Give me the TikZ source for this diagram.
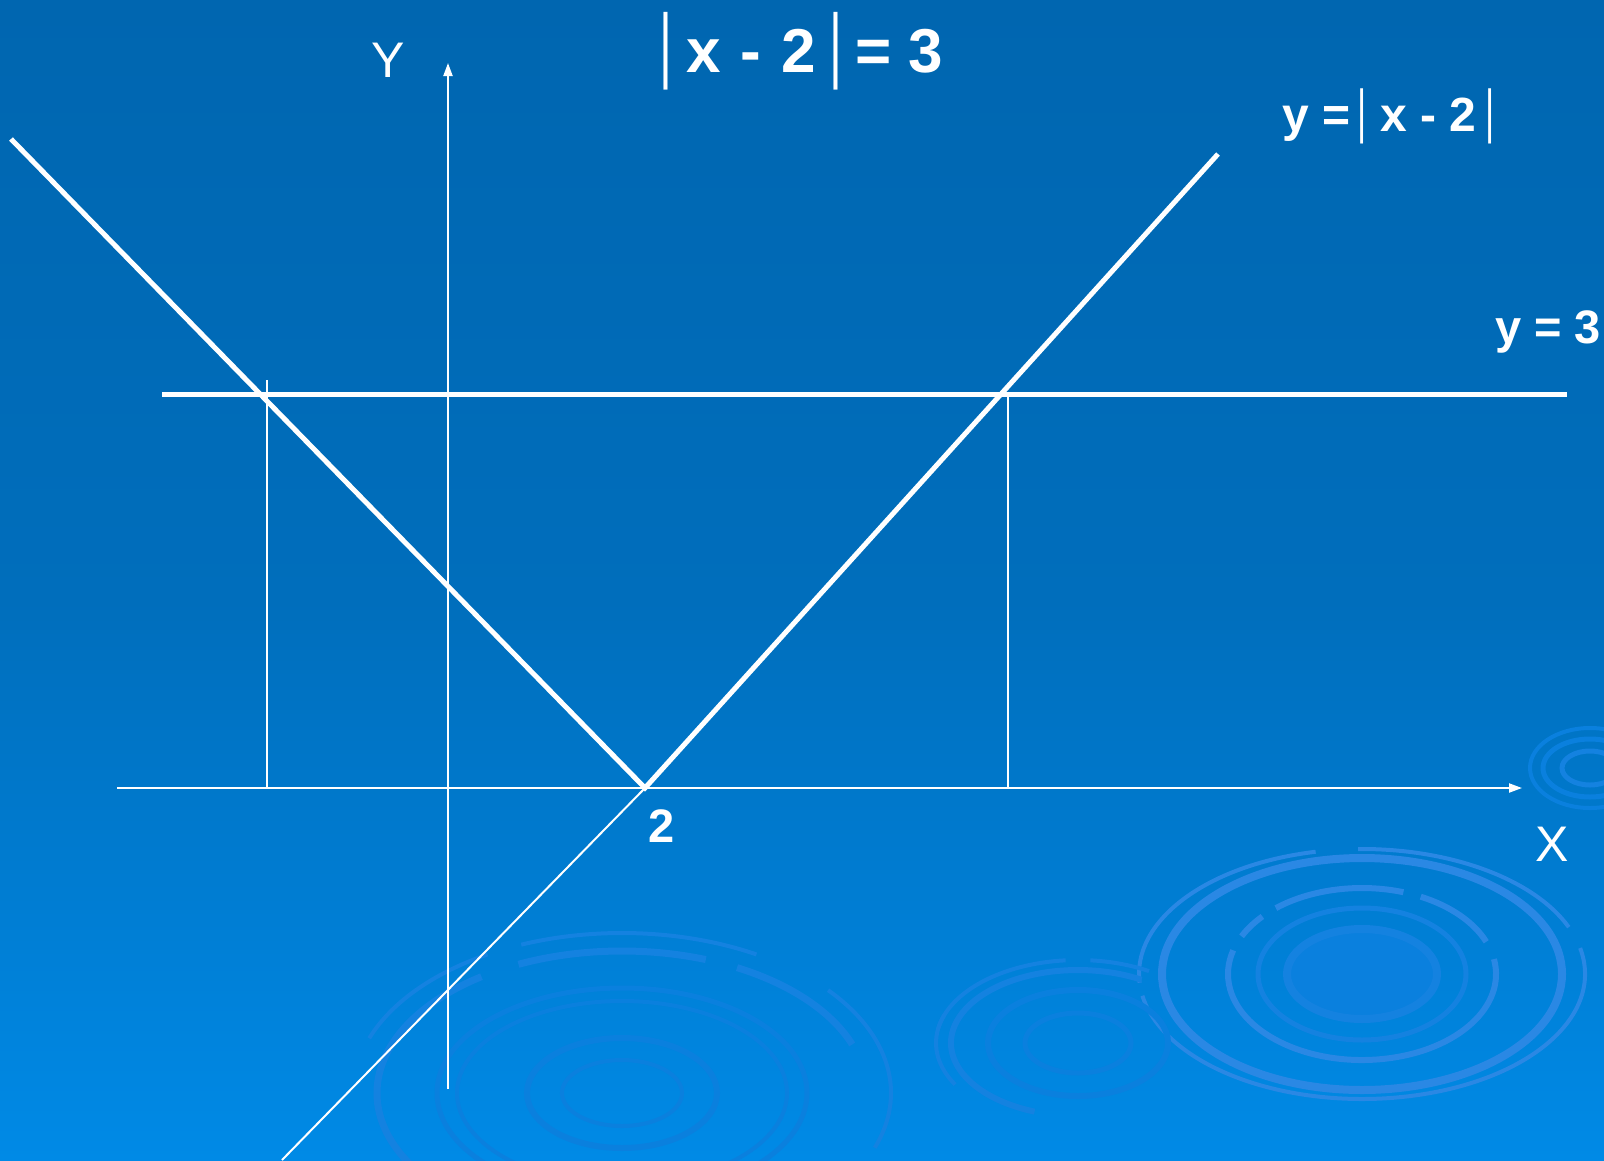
\documentclass[tikz,border=0pt]{standalone}
\usepackage{graphicx}
\usepackage{fontspec}
\setmainfont{Liberation Sans}
\usetikzlibrary{arrows.meta}
\definecolor{bgtop}{RGB}{0,102,176}
\definecolor{bgmid}{RGB}{0,110,188}
\definecolor{bgbot}{RGB}{0,138,230}
\definecolor{ripA}{RGB}{42,136,228}
\definecolor{ripB}{RGB}{20,130,224}
\definecolor{ripC}{RGB}{10,128,222}
\newcommand\absbar[1]{{\fontsize{#1}{#1}\selectfont\mdseries\scalebox{0.6}[1]{|}}}
\begin{document}
\begin{tikzpicture}[x=1pt,y=-1pt,
  thickln/.style={white,line width=5pt},
  thinln/.style={white,line width=2pt},
  axisln/.style={white,line width=2pt,-{Triangle[length=13pt,width=9pt]}},
  lbl/.style={text=white,inner sep=0pt},
  axlbl/.style={lbl,font=\fontsize{50}{50}\selectfont},
]
\useasboundingbox (0,0) rectangle (1604,1160);
% background
\fill[top color=bgtop,bottom color=bgmid] (0,0) rectangle (1604,601);
\fill[top color=bgmid,bottom color=bgbot] (0,600) rectangle (1604,1160);

% ripples (decorative)
\coordinate (R) at (1362,974);
\coordinate (L) at (622,1093);
\coordinate (M) at (1078,1043);
\coordinate (S) at (1590,768);
% right ripple
\foreach \a/\b in {-91/-22,-12/170,176/258}
  \draw[ripA,line width=4pt] (R) ++(\a:223 and 125) arc[start angle=\a,end angle=\b,x radius=223,y radius=125];
\draw[ripA,line width=8pt] (R) ellipse[x radius=200,y radius=116];
\foreach \a/\b in {-130/-72,-64/-22,-10/196,206/222}
  \draw[ripA,line width=6pt] (R) ++(\a:134 and 86) arc[start angle=\a,end angle=\b,x radius=134,y radius=86];
\draw[ripB,line width=5pt] (R) ellipse[x radius=104,y radius=66];
\fill[ripC] (R) ellipse[x radius=72,y radius=42];
\draw[ripB,line width=8pt] (R) ellipse[x radius=75,y radius=45];
% left ripple
\foreach \a/\b in {-160/-120,-112/-60,-40/20}
  \draw[ripB,line width=4pt] (L) ++(\a:269 and 160) arc[start angle=\a,end angle=\b,x radius=269,y radius=160];
\foreach \a/\b in {150/235,245/290,298/340}
  \draw[ripB,line width=7pt] (L) ++(\a:245 and 142) arc[start angle=\a,end angle=\b,x radius=245,y radius=142];
\draw[ripC,line width=5pt] (L) ellipse[x radius=185,y radius=105];
\draw[ripC,line width=4pt] (L) ellipse[x radius=165,y radius=92];
\draw[ripC,line width=6pt] (L) ellipse[x radius=95,y radius=55];
\draw[ripC,line width=4pt] (L) ellipse[x radius=60,y radius=33];
% middle ripple
\foreach \a/\b in {-170/-95,-85/-60,150/200}
  \draw[ripB,line width=4pt] (M) ++(\a:142 and 83) arc[start angle=\a,end angle=\b,x radius=142,y radius=83];
\draw[ripB,line width=6pt] (M) ++(110:127 and 73) arc[start angle=110,end angle=300,x radius=127,y radius=73];
\draw[ripC,line width=6pt] (M) ellipse[x radius=90,y radius=53];
\draw[ripC,line width=5pt] (M) ellipse[x radius=53,y radius=30];
% small right ripple
\draw[ripC,line width=4pt] (S) ellipse[x radius=60,y radius=40];
\draw[ripC,line width=5pt] (S) ellipse[x radius=47,y radius=29];
\draw[ripB,line width=5pt] (S) ellipse[x radius=28,y radius=17];

% key points
\coordinate (V) at (645,788);
\coordinate (Lend) at (11,139);
\coordinate (Rend) at (1218,154);
\coordinate (H1) at (162,394);
\coordinate (H2) at (1567,394);
\coordinate (X0) at (117,788);
\coordinate (X1) at (1522,788);
\coordinate (Y0) at (448,1089);
\coordinate (Y1) at (448,63);
\coordinate (D1t) at (267,380);
\coordinate (D1b) at (267,788);
\coordinate (D2t) at (1008,394);
\coordinate (D2b) at (1008,788);
\coordinate (E) at (282,1160);

% thin lines
\draw[axisln] (X0) -- (X1);
\draw[axisln] (Y0) -- (Y1);
\draw[thinln] (D1t) -- (D1b);
\draw[thinln] (D2t) -- (D2b);
\draw[thinln] (V) -- (E);
% thick lines
\draw[thickln] (H1) -- (H2);
\draw[thickln] (Lend) -- (V) -- (Rend);

% labels
\node[lbl,font=\fontsize{62}{62}\selectfont\bfseries,anchor=base west] (title) at (659,72)
  {\absbar{83}\hspace{14pt}x\hspace{20pt}-\hspace{20pt}2\hspace{14pt}\absbar{83}\hspace{13pt}=\hspace{17pt}3};
\node[lbl,font=\fontsize{48}{48}\selectfont\bfseries,anchor=base west] (fabs) at (1282,131)
  {y =\hspace{7pt}\absbar{59}\hspace{14pt}x - 2\hspace{9pt}\absbar{59}};
\node[lbl,font=\fontsize{47}{47}\selectfont\bfseries,anchor=base west] (fthree) at (1495,343) {y = 3};
\node[lbl,font=\fontsize{47}{47}\selectfont\bfseries,anchor=base] (two) at (662,842) {2};
\node[axlbl,anchor=base] (ylab) at (388,77) {Y};
\node[axlbl,anchor=base] (xlab) at (1552,861) {X};
\end{tikzpicture}
\end{document}
